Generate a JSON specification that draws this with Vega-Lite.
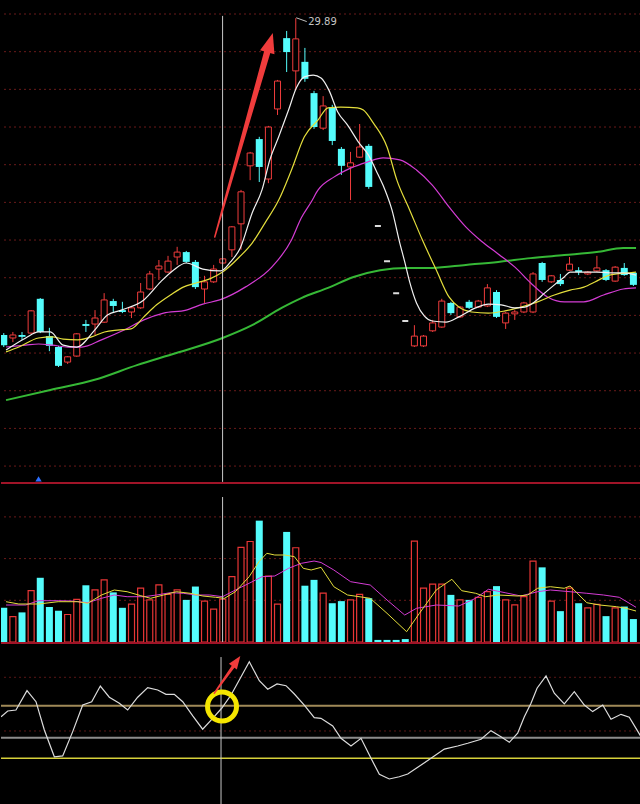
{
"$schema":"https://vega.github.io/schema/vega-lite/v6.json",
"background":"#000000","padding":0,"spacing":0,"bounds":"flush",
"config":{"view":{"stroke":null}},
"datasets":{
"candles":[
{"x":0,"o":21.48,"c":21.21,"h":21.53,"l":21.16,"v":0.82,"d":"d"},
{"x":1,"o":21.40,"c":21.48,"h":21.56,"l":21.29,"v":0.61,"d":"u"},
{"x":2,"o":21.48,"c":21.43,"h":21.56,"l":21.35,"v":0.71,"d":"d"},
{"x":3,"o":21.53,"c":22.12,"h":22.14,"l":21.51,"v":1.23,"d":"u"},
{"x":4,"o":22.44,"c":21.56,"h":22.46,"l":21.53,"v":1.54,"d":"d"},
{"x":5,"o":21.45,"c":21.19,"h":21.67,"l":21.05,"v":0.84,"d":"d"},
{"x":6,"o":21.16,"c":20.66,"h":21.19,"l":20.63,"v":0.75,"d":"d"},
{"x":7,"o":20.76,"c":20.90,"h":20.92,"l":20.71,"v":0.66,"d":"u"},
{"x":8,"o":20.92,"c":21.51,"h":21.53,"l":20.90,"v":1.02,"d":"u"},
{"x":9,"o":21.77,"c":21.72,"h":21.88,"l":21.56,"v":1.36,"d":"d"},
{"x":10,"o":21.77,"c":21.93,"h":22.14,"l":21.48,"v":1.25,"d":"u"},
{"x":11,"o":21.82,"c":22.41,"h":22.59,"l":21.80,"v":1.49,"d":"u"},
{"x":12,"o":22.38,"c":22.25,"h":22.44,"l":22.09,"v":1.19,"d":"d"},
{"x":13,"o":22.14,"c":22.09,"h":22.36,"l":22.06,"v":0.82,"d":"d"},
{"x":14,"o":22.09,"c":22.20,"h":22.22,"l":21.93,"v":0.91,"d":"u"},
{"x":15,"o":22.20,"c":22.62,"h":22.86,"l":22.17,"v":1.29,"d":"u"},
{"x":16,"o":22.70,"c":23.10,"h":23.18,"l":22.67,"v":1.01,"d":"u"},
{"x":17,"o":23.23,"c":23.31,"h":23.47,"l":22.94,"v":1.37,"d":"u"},
{"x":18,"o":23.15,"c":23.44,"h":23.58,"l":23.13,"v":1.14,"d":"u"},
{"x":19,"o":23.55,"c":23.68,"h":23.82,"l":23.34,"v":1.25,"d":"u"},
{"x":20,"o":23.68,"c":23.42,"h":23.71,"l":23.39,"v":1.01,"d":"d"},
{"x":21,"o":23.42,"c":22.75,"h":23.47,"l":22.70,"v":1.33,"d":"d"},
{"x":22,"o":22.70,"c":22.89,"h":23.05,"l":22.33,"v":0.98,"d":"u"},
{"x":23,"o":22.89,"c":23.23,"h":23.34,"l":22.86,"v":0.79,"d":"u"},
{"x":24,"o":23.39,"c":23.50,"h":23.52,"l":23.36,"v":1.03,"d":"u"},
{"x":25,"o":23.74,"c":24.35,"h":24.37,"l":23.55,"v":1.57,"d":"u"},
{"x":26,"o":24.43,"c":25.28,"h":25.33,"l":23.74,"v":2.27,"d":"u"},
{"x":27,"o":25.97,"c":26.31,"h":26.34,"l":25.59,"v":2.41,"d":"u"},
{"x":28,"o":26.68,"c":25.94,"h":26.74,"l":25.54,"v":2.91,"d":"d"},
{"x":29,"o":25.62,"c":27.00,"h":27.03,"l":25.51,"v":1.58,"d":"u"},
{"x":30,"o":27.48,"c":28.22,"h":28.25,"l":27.32,"v":0.91,"d":"u"},
{"x":31,"o":29.36,"c":28.99,"h":29.55,"l":28.46,"v":2.64,"d":"d"},
{"x":32,"o":28.49,"c":29.34,"h":29.89,"l":27.98,"v":2.26,"d":"u"},
{"x":33,"o":28.73,"c":28.28,"h":29.10,"l":28.20,"v":1.35,"d":"d"},
{"x":34,"o":27.90,"c":27.00,"h":27.96,"l":26.95,"v":1.49,"d":"d"},
{"x":35,"o":26.97,"c":27.56,"h":27.82,"l":26.92,"v":1.17,"d":"u"},
{"x":36,"o":27.53,"c":26.63,"h":27.59,"l":26.52,"v":0.93,"d":"d"},
{"x":37,"o":26.42,"c":25.97,"h":26.47,"l":25.73,"v":0.98,"d":"d"},
{"x":38,"o":25.94,"c":26.05,"h":26.34,"l":25.06,"v":1.01,"d":"u"},
{"x":39,"o":26.20,"c":26.47,"h":27.08,"l":26.18,"v":1.14,"d":"u"},
{"x":40,"o":26.50,"c":25.41,"h":26.55,"l":25.36,"v":1.05,"d":"d"},
{"x":41,"o":24.37,"c":24.37,"h":24.37,"l":24.37,"v":0.05,"d":"f"},
{"x":42,"o":23.44,"c":23.44,"h":23.44,"l":23.44,"v":0.05,"d":"f"},
{"x":43,"o":22.59,"c":22.59,"h":22.59,"l":22.59,"v":0.05,"d":"f"},
{"x":44,"o":21.85,"c":21.85,"h":21.85,"l":21.85,"v":0.07,"d":"f"},
{"x":45,"o":21.19,"c":21.45,"h":21.74,"l":21.16,"v":2.42,"d":"u"},
{"x":46,"o":21.19,"c":21.45,"h":21.48,"l":21.16,"v":1.29,"d":"u"},
{"x":47,"o":21.59,"c":21.80,"h":21.88,"l":21.56,"v":1.39,"d":"u"},
{"x":48,"o":21.69,"c":22.38,"h":22.44,"l":21.67,"v":1.39,"d":"u"},
{"x":49,"o":22.33,"c":22.06,"h":22.36,"l":22.01,"v":1.13,"d":"d"},
{"x":50,"o":21.96,"c":22.22,"h":22.25,"l":21.93,"v":1.01,"d":"u"},
{"x":51,"o":22.36,"c":22.20,"h":22.41,"l":22.17,"v":1.01,"d":"d"},
{"x":52,"o":22.22,"c":22.38,"h":22.41,"l":22.20,"v":1.07,"d":"u"},
{"x":53,"o":22.25,"c":22.73,"h":22.83,"l":22.22,"v":1.21,"d":"u"},
{"x":54,"o":22.62,"c":21.96,"h":22.67,"l":21.93,"v":1.34,"d":"d"},
{"x":55,"o":21.80,"c":22.06,"h":22.09,"l":21.64,"v":1.01,"d":"u"},
{"x":56,"o":22.04,"c":22.09,"h":22.14,"l":21.88,"v":0.89,"d":"u"},
{"x":57,"o":22.09,"c":22.33,"h":22.36,"l":22.06,"v":1.09,"d":"u"},
{"x":58,"o":22.09,"c":23.10,"h":23.15,"l":22.06,"v":1.94,"d":"u"},
{"x":59,"o":23.39,"c":22.94,"h":23.42,"l":22.89,"v":1.79,"d":"d"},
{"x":60,"o":22.89,"c":23.05,"h":23.07,"l":22.86,"v":0.98,"d":"u"},
{"x":61,"o":22.94,"c":22.83,"h":23.10,"l":22.78,"v":0.74,"d":"d"},
{"x":62,"o":23.20,"c":23.36,"h":23.55,"l":23.18,"v":1.29,"d":"u"},
{"x":63,"o":23.20,"c":23.15,"h":23.28,"l":23.07,"v":0.93,"d":"d"},
{"x":64,"o":23.10,"c":23.15,"h":23.18,"l":23.07,"v":0.82,"d":"u"},
{"x":65,"o":23.18,"c":23.26,"h":23.58,"l":23.15,"v":0.90,"d":"u"},
{"x":66,"o":23.20,"c":22.94,"h":23.23,"l":22.91,"v":0.62,"d":"d"},
{"x":67,"o":22.91,"c":23.28,"h":23.31,"l":22.89,"v":0.82,"d":"u"},
{"x":68,"o":23.26,"c":23.07,"h":23.39,"l":23.05,"v":0.85,"d":"d"},
{"x":69,"o":23.13,"c":22.81,"h":23.15,"l":22.78,"v":0.55,"d":"d"}
],
"ma":[
{"k":"m5","x":0.25,"p":21.08},{"k":"m5","x":2.41,"p":21.40},{"k":"m5","x":3.81,"p":21.56},{"k":"m5","x":5.10,"p":21.56},{"k":"m5","x":6.51,"p":21.21},{"k":"m5","x":8.02,"p":21.16},{"k":"m5","x":9.96,"p":21.61},{"k":"m5","x":11.36,"p":22.01},{"k":"m5","x":12.87,"p":22.14},{"k":"m5","x":15.35,"p":22.41},{"k":"m5","x":17.19,"p":22.89},{"k":"m5","x":18.59,"p":23.20},{"k":"m5","x":19.99,"p":23.39},{"k":"m5","x":21.82,"p":23.23},{"k":"m5","x":23.77,"p":23.18},{"k":"m5","x":24.85,"p":23.42},{"k":"m5","x":25.92,"p":23.79},{"k":"m5","x":27.22,"p":24.72},{"k":"m5","x":28.30,"p":25.33},{"k":"m5","x":29.16,"p":26.13},{"k":"m5","x":30.13,"p":26.74},{"k":"m5","x":31.21,"p":27.45},{"k":"m5","x":32.07,"p":28.04},{"k":"m5","x":32.94,"p":28.33},{"k":"m5","x":33.91,"p":28.38},{"k":"m5","x":34.77,"p":28.30},{"k":"m5","x":35.63,"p":27.98},{"k":"m5","x":36.60,"p":27.40},{"k":"m5","x":37.68,"p":27.05},{"k":"m5","x":38.87,"p":26.60},{"k":"m5","x":39.95,"p":26.26},{"k":"m5","x":41.03,"p":25.73},{"k":"m5","x":41.78,"p":25.33},{"k":"m5","x":42.54,"p":24.80},{"k":"m5","x":43.40,"p":23.92},{"k":"m5","x":43.94,"p":23.42},{"k":"m5","x":44.48,"p":22.89},{"k":"m5","x":45.23,"p":22.33},{"k":"m5","x":46.10,"p":21.98},{"k":"m5","x":46.96,"p":21.85},{"k":"m5","x":48.47,"p":21.82},{"k":"m5","x":49.87,"p":21.96},{"k":"m5","x":51.71,"p":22.20},{"k":"m5","x":53.11,"p":22.30},{"k":"m5","x":54.51,"p":22.28},{"k":"m5","x":56.02,"p":22.20},{"k":"m5","x":57.10,"p":22.22},{"k":"m5","x":58.18,"p":22.36},{"k":"m5","x":59.26,"p":22.59},{"k":"m5","x":60.34,"p":22.81},{"k":"m5","x":61.42,"p":23.02},{"k":"m5","x":62.06,"p":23.15},{"k":"m5","x":63.57,"p":23.15},{"k":"m5","x":64.97,"p":23.15},{"k":"m5","x":66.38,"p":23.13},{"k":"m5","x":67.89,"p":23.13},{"k":"m5","x":69.29,"p":23.07},
{"k":"m10","x":0.25,"p":21.03},{"k":"m10","x":1.65,"p":21.16},{"k":"m10","x":3.81,"p":21.40},{"k":"m10","x":5.32,"p":21.43},{"k":"m10","x":6.51,"p":21.37},{"k":"m10","x":8.12,"p":21.35},{"k":"m10","x":9.63,"p":21.43},{"k":"m10","x":11.04,"p":21.56},{"k":"m10","x":12.44,"p":21.61},{"k":"m10","x":13.95,"p":21.64},{"k":"m10","x":15.35,"p":21.96},{"k":"m10","x":16.75,"p":22.28},{"k":"m10","x":18.26,"p":22.54},{"k":"m10","x":19.67,"p":22.75},{"k":"m10","x":21.07,"p":22.86},{"k":"m10","x":22.58,"p":22.97},{"k":"m10","x":23.98,"p":23.15},{"k":"m10","x":25.82,"p":23.55},{"k":"m10","x":27.22,"p":23.92},{"k":"m10","x":28.62,"p":24.45},{"k":"m10","x":30.13,"p":25.06},{"k":"m10","x":31.53,"p":25.86},{"k":"m10","x":32.94,"p":26.74},{"k":"m10","x":34.45,"p":27.19},{"k":"m10","x":35.53,"p":27.51},{"k":"m10","x":36.93,"p":27.53},{"k":"m10","x":38.76,"p":27.51},{"k":"m10","x":39.41,"p":27.45},{"k":"m10","x":40.49,"p":27.11},{"k":"m10","x":42.00,"p":26.47},{"k":"m10","x":43.08,"p":25.59},{"k":"m10","x":44.48,"p":24.80},{"k":"m10","x":45.88,"p":24.00},{"k":"m10","x":47.39,"p":23.21},{"k":"m10","x":48.79,"p":22.49},{"k":"m10","x":49.87,"p":22.22},{"k":"m10","x":51.27,"p":22.09},{"k":"m10","x":53.11,"p":22.06},{"k":"m10","x":54.94,"p":22.12},{"k":"m10","x":56.67,"p":22.22},{"k":"m10","x":58.50,"p":22.36},{"k":"m10","x":60.34,"p":22.54},{"k":"m10","x":62.06,"p":22.67},{"k":"m10","x":63.57,"p":22.75},{"k":"m10","x":64.97,"p":22.91},{"k":"m10","x":66.38,"p":23.07},{"k":"m10","x":68.53,"p":23.13},{"k":"m10","x":69.29,"p":23.15},
{"k":"m20","x":0.25,"p":21.16},{"k":"m20","x":2.41,"p":21.21},{"k":"m20","x":3.81,"p":21.24},{"k":"m20","x":5.32,"p":21.21},{"k":"m20","x":7.04,"p":21.16},{"k":"m20","x":8.55,"p":21.16},{"k":"m20","x":10.71,"p":21.35},{"k":"m20","x":13.19,"p":21.61},{"k":"m20","x":15.35,"p":21.88},{"k":"m20","x":17.51,"p":22.06},{"k":"m20","x":19.99,"p":22.14},{"k":"m20","x":21.82,"p":22.30},{"k":"m20","x":23.66,"p":22.41},{"k":"m20","x":26.46,"p":22.75},{"k":"m20","x":29.37,"p":23.28},{"k":"m20","x":31.53,"p":24.00},{"k":"m20","x":32.61,"p":24.59},{"k":"m20","x":33.69,"p":25.01},{"k":"m20","x":34.45,"p":25.33},{"k":"m20","x":36.17,"p":25.67},{"k":"m20","x":38.01,"p":25.91},{"k":"m20","x":39.84,"p":26.07},{"k":"m20","x":41.57,"p":26.18},{"k":"m20","x":43.40,"p":26.13},{"k":"m20","x":45.23,"p":25.86},{"k":"m20","x":46.96,"p":25.46},{"k":"m20","x":48.79,"p":24.88},{"k":"m20","x":50.63,"p":24.35},{"k":"m20","x":52.35,"p":23.97},{"k":"m20","x":54.18,"p":23.63},{"k":"m20","x":56.02,"p":23.28},{"k":"m20","x":57.75,"p":22.86},{"k":"m20","x":59.58,"p":22.49},{"k":"m20","x":61.42,"p":22.36},{"k":"m20","x":63.57,"p":22.36},{"k":"m20","x":65.73,"p":22.54},{"k":"m20","x":67.89,"p":22.70},{"k":"m20","x":69.29,"p":22.73},
{"k":"m60","x":0.25,"p":19.75},{"k":"m60","x":5.10,"p":20.02},{"k":"m60","x":9.96,"p":20.29},{"k":"m60","x":14.60,"p":20.68},{"k":"m60","x":18.91,"p":21.00},{"k":"m60","x":23.98,"p":21.40},{"k":"m60","x":27.22,"p":21.74},{"k":"m60","x":30.45,"p":22.20},{"k":"m60","x":32.61,"p":22.46},{"k":"m60","x":35.53,"p":22.73},{"k":"m60","x":38.33,"p":23.02},{"k":"m60","x":41.24,"p":23.20},{"k":"m60","x":44.15,"p":23.26},{"k":"m60","x":46.96,"p":23.26},{"k":"m60","x":50.63,"p":23.34},{"k":"m60","x":54.18,"p":23.42},{"k":"m60","x":57.75,"p":23.52},{"k":"m60","x":61.42,"p":23.60},{"k":"m60","x":64.97,"p":23.68},{"k":"m60","x":67.89,"p":23.79},{"k":"m60","x":69.29,"p":23.79}
],
"vma":[
{"k":"y5","x":0.25,"v":0.966},{"k":"y5","x":1.65,"v":0.911},{"k":"y5","x":3.81,"v":0.911},{"k":"y5","x":5.96,"v":0.966},{"k":"y5","x":8.12,"v":0.966},{"k":"y5","x":9.20,"v":0.928},{"k":"y5","x":10.71,"v":1.127},{"k":"y5","x":12.11,"v":1.247},{"k":"y5","x":13.52,"v":1.206},{"k":"y5","x":15.02,"v":1.110},{"k":"y5","x":16.10,"v":1.048},{"k":"y5","x":17.51,"v":1.127},{"k":"y5","x":18.91,"v":1.206},{"k":"y5","x":20.42,"v":1.168},{"k":"y5","x":21.82,"v":1.103},{"k":"y5","x":23.22,"v":1.072},{"k":"y5","x":24.19,"v":1.048},{"k":"y5","x":25.38,"v":1.206},{"k":"y5","x":26.89,"v":1.566},{"k":"y5","x":27.97,"v":1.926},{"k":"y5","x":28.83,"v":2.127},{"k":"y5","x":29.70,"v":2.086},{"k":"y5","x":30.78,"v":2.086},{"k":"y5","x":31.85,"v":2.046},{"k":"y5","x":32.82,"v":1.767},{"k":"y5","x":33.69,"v":1.727},{"k":"y5","x":34.77,"v":1.790},{"k":"y5","x":36.17,"v":1.326},{"k":"y5","x":37.68,"v":1.127},{"k":"y5","x":40.16,"v":1.048},{"k":"y5","x":42.00,"v":0.688},{"k":"y5","x":44.15,"v":0.247},{"k":"y5","x":45.55,"v":0.688},{"k":"y5","x":47.39,"v":1.247},{"k":"y5","x":49.11,"v":1.504},{"k":"y5","x":50.19,"v":1.230},{"k":"y5","x":51.71,"v":1.168},{"k":"y5","x":52.78,"v":1.086},{"k":"y5","x":54.18,"v":1.127},{"k":"y5","x":56.34,"v":1.103},{"k":"y5","x":57.42,"v":1.127},{"k":"y5","x":58.50,"v":1.288},{"k":"y5","x":59.90,"v":1.326},{"k":"y5","x":61.42,"v":1.288},{"k":"y5","x":62.06,"v":1.343},{"k":"y5","x":63.89,"v":0.942},{"k":"y5","x":65.30,"v":0.887},{"k":"y5","x":67.13,"v":0.847},{"k":"y5","x":68.21,"v":0.808},{"k":"y5","x":69.29,"v":0.743},
{"k":"m10","x":0.25,"v":0.887},{"k":"m10","x":2.41,"v":0.887},{"k":"m10","x":3.81,"v":0.990},{"k":"m10","x":5.96,"v":0.990},{"k":"m10","x":7.47,"v":0.983},{"k":"m10","x":9.20,"v":0.942},{"k":"m10","x":10.71,"v":1.048},{"k":"m10","x":12.11,"v":1.127},{"k":"m10","x":13.52,"v":1.086},{"k":"m10","x":15.35,"v":1.086},{"k":"m10","x":16.75,"v":1.127},{"k":"m10","x":18.26,"v":1.182},{"k":"m10","x":19.67,"v":1.168},{"k":"m10","x":21.07,"v":1.127},{"k":"m10","x":22.58,"v":1.127},{"k":"m10","x":23.98,"v":1.086},{"k":"m10","x":25.38,"v":1.247},{"k":"m10","x":26.89,"v":1.408},{"k":"m10","x":28.30,"v":1.566},{"k":"m10","x":29.70,"v":1.583},{"k":"m10","x":31.21,"v":1.767},{"k":"m10","x":32.61,"v":1.887},{"k":"m10","x":34.01,"v":1.942},{"k":"m10","x":34.77,"v":1.906},{"k":"m10","x":36.17,"v":1.727},{"k":"m10","x":38.01,"v":1.446},{"k":"m10","x":40.16,"v":1.367},{"k":"m10","x":42.00,"v":1.007},{"k":"m10","x":43.94,"v":0.647},{"k":"m10","x":45.23,"v":0.808},{"k":"m10","x":47.39,"v":0.887},{"k":"m10","x":49.87,"v":0.863},{"k":"m10","x":51.71,"v":1.048},{"k":"m10","x":53.11,"v":1.264},{"k":"m10","x":54.94,"v":1.182},{"k":"m10","x":56.67,"v":1.103},{"k":"m10","x":58.50,"v":1.206},{"k":"m10","x":59.90,"v":1.247},{"k":"m10","x":62.06,"v":1.206},{"k":"m10","x":63.89,"v":1.168},{"k":"m10","x":65.73,"v":1.127},{"k":"m10","x":67.46,"v":1.072},{"k":"m10","x":69.29,"v":0.832}
],
"ind":[
{"x":0.25,"w":53.1},{"x":0.97,"w":56.7},{"x":1.86,"w":57.3},{"x":3.05,"w":69.4},{"x":4.02,"w":62.5},{"x":4.92,"w":44.8},{"x":6.00,"w":28.1},{"x":6.90,"w":28.6},{"x":7.98,"w":43.8},{"x":9.06,"w":60.4},{"x":10.03,"w":62.5},{"x":10.96,"w":72.3},{"x":11.93,"w":65.3},{"x":13.01,"w":61.5},{"x":13.91,"w":57.3},{"x":14.99,"w":65.3},{"x":16.07,"w":71.3},{"x":17.15,"w":69.8},{"x":18.04,"w":67.1},{"x":18.94,"w":67.1},{"x":19.85,"w":62.5},{"x":20.93,"w":53.6},{"x":22.00,"w":45.3},{"x":23.08,"w":52.1},{"x":24.05,"w":58.4},{"x":25.06,"w":66.7},{"x":25.95,"w":76.1},{"x":27.03,"w":87.5},{"x":28.11,"w":75.6},{"x":29.02,"w":70.3},{"x":30.02,"w":73.6},{"x":30.99,"w":72.5},{"x":31.89,"w":67.3},{"x":32.96,"w":60.4},{"x":34.04,"w":52.5},{"x":34.76,"w":52.1},{"x":36.03,"w":47.3},{"x":36.92,"w":39.6},{"x":38.00,"w":34.8},{"x":39.08,"w":39.6},{"x":40.16,"w":27.1},{"x":41.06,"w":17.1},{"x":42.13,"w":14.2},{"x":43.21,"w":15.6},{"x":44.12,"w":17.3},{"x":45.20,"w":21.5},{"x":46.63,"w":27.1},{"x":48.07,"w":32.9},{"x":49.51,"w":34.8},{"x":50.59,"w":36.5},{"x":52.03,"w":39.0},{"x":53.10,"w":44.4},{"x":54.18,"w":40.6},{"x":55.08,"w":37.1},{"x":55.98,"w":42.8},{"x":56.70,"w":53.1},{"x":57.42,"w":61.5},{"x":58.07,"w":70.9},{"x":59.04,"w":78.6},{"x":59.93,"w":67.8},{"x":61.01,"w":61.1},{"x":62.09,"w":68.8},{"x":63.17,"w":60.4},{"x":64.07,"w":56.3},{"x":65.16,"w":60.4},{"x":66.05,"w":51.5},{"x":67.13,"w":54.6},{"x":68.02,"w":52.8},{"x":69.29,"w":40.6}
]
},
"vconcat":[
{"width":640,"height":482,
"resolve":{"scale":{"color":"independent","size":"independent"}},
"layer":[
{"data":{"values":[{"p":30},{"p":29},{"p":28},{"p":27},{"p":26},{"p":25},{"p":24},{"p":23},{"p":22},{"p":21},{"p":20},{"p":19},{"p":18}]},
 "mark":{"type":"rule","color":"#6a1a1a","strokeDash":[2,3],"strokeWidth":1},
 "encoding":{"y":{"field":"p","type":"quantitative","scale":{"domain":[17.577,30.372],"nice":false,"zero":false},"axis":null}}},
{"data":{"name":"ma"},"transform":[{"filter":"datum.k==='m60'"}],
 "mark":{"type":"line","color":"#36b836","strokeWidth":2,"interpolate":"monotone","clip":true},
 "encoding":{"x":{"field":"x","type":"quantitative","scale":{"domain":[0.245,69.285],"nice":false,"zero":false},"axis":null},
  "y":{"field":"p","type":"quantitative","scale":{"domain":[17.577,30.372],"nice":false,"zero":false},"axis":null}}},
{"data":{"name":"candles"},"transform":[{"filter":"datum.d==='u'"}],
 "mark":{"type":"rule","strokeWidth":1,"color":"#f03c3c","clip":true},
 "encoding":{"x":{"field":"x","type":"quantitative","scale":{"domain":[0.245,69.285],"nice":false,"zero":false},"axis":null},
  "y":{"field":"l","type":"quantitative","scale":{"domain":[17.577,30.372],"nice":false,"zero":false},"axis":null},
  "y2":{"field":"h"}}},
{"data":{"name":"candles"},"transform":[{"filter":"datum.d==='d'"}],
 "mark":{"type":"rule","strokeWidth":1,"color":"#54fcfc","clip":true},
 "encoding":{"x":{"field":"x","type":"quantitative","scale":{"domain":[0.245,69.285],"nice":false,"zero":false},"axis":null},
  "y":{"field":"l","type":"quantitative","scale":{"domain":[17.577,30.372],"nice":false,"zero":false},"axis":null},
  "y2":{"field":"h"}}},
{"data":{"name":"candles"},"transform":[{"filter":"datum.d==='d'"}],
 "mark":{"type":"bar","size":7,"color":"#54fcfc","clip":true},
 "encoding":{"x":{"field":"x","type":"quantitative","scale":{"domain":[0.245,69.285],"nice":false,"zero":false},"axis":null},
  "y":{"field":"o","type":"quantitative","scale":{"domain":[17.577,30.372],"nice":false,"zero":false},"axis":null},
  "y2":{"field":"c"}}},
{"data":{"name":"candles"},"transform":[{"filter":"datum.d==='u'"}],
 "mark":{"type":"bar","size":6,"fill":"#000000","stroke":"#f03c3c","strokeWidth":1,"clip":true},
 "encoding":{"x":{"field":"x","type":"quantitative","scale":{"domain":[0.245,69.285],"nice":false,"zero":false},"axis":null},
  "y":{"field":"o","type":"quantitative","scale":{"domain":[17.577,30.372],"nice":false,"zero":false},"axis":null},
  "y2":{"field":"c"}}},
{"data":{"name":"candles"},"transform":[{"filter":"datum.d==='f'"}],
 "mark":{"type":"bar","size":6,"fill":"#dcdcdc","stroke":"#dcdcdc","strokeWidth":2,"clip":true},
 "encoding":{"x":{"field":"x","type":"quantitative","scale":{"domain":[0.245,69.285],"nice":false,"zero":false},"axis":null},
  "y":{"field":"o","type":"quantitative","scale":{"domain":[17.577,30.372],"nice":false,"zero":false},"axis":null},
  "y2":{"field":"c"}}},
{"data":{"name":"ma"},"transform":[{"filter":"datum.k==='m20'"}],
 "mark":{"type":"line","strokeWidth":1.2,"color":"#d43cd4","interpolate":"monotone","clip":true},
 "encoding":{"x":{"field":"x","type":"quantitative","scale":{"domain":[0.245,69.285],"nice":false,"zero":false},"axis":null},
  "y":{"field":"p","type":"quantitative","scale":{"domain":[17.577,30.372],"nice":false,"zero":false},"axis":null}}},
{"data":{"name":"ma"},"transform":[{"filter":"datum.k==='m10'"}],
 "mark":{"type":"line","strokeWidth":1.2,"color":"#e4de3c","interpolate":"monotone","clip":true},
 "encoding":{"x":{"field":"x","type":"quantitative","scale":{"domain":[0.245,69.285],"nice":false,"zero":false},"axis":null},
  "y":{"field":"p","type":"quantitative","scale":{"domain":[17.577,30.372],"nice":false,"zero":false},"axis":null}}},
{"data":{"name":"ma"},"transform":[{"filter":"datum.k==='m5'"}],
 "mark":{"type":"line","strokeWidth":1.2,"color":"#f0f0f0","interpolate":"monotone","clip":true},
 "encoding":{"x":{"field":"x","type":"quantitative","scale":{"domain":[0.245,69.285],"nice":false,"zero":false},"axis":null},
  "y":{"field":"p","type":"quantitative","scale":{"domain":[17.577,30.372],"nice":false,"zero":false},"axis":null}}},
{"data":{"values":[{"x":23.98,"a":29.95,"b":17.58}]},
 "mark":{"type":"rule","color":"#c8c8c8","strokeWidth":1},
 "encoding":{"x":{"field":"x","type":"quantitative","scale":{"domain":[0.245,69.285],"nice":false,"zero":false},"axis":null},
  "y":{"field":"a","type":"quantitative","scale":{"domain":[17.577,30.372],"nice":false,"zero":false},"axis":null},
  "y2":{"field":"b"}}},
{"data":{"values":[{"x":23.12,"p":24.08},{"x":28.94,"p":29.05}]},
 "mark":{"type":"trail","color":"#f03c3c","clip":true},
 "encoding":{"x":{"field":"x","type":"quantitative","scale":{"domain":[0.245,69.285],"nice":false,"zero":false},"axis":null},
  "y":{"field":"p","type":"quantitative","scale":{"domain":[17.577,30.372],"nice":false,"zero":false},"axis":null},
  "size":{"field":"x","type":"quantitative","scale":{"range":[1.5,6.5],"zero":false,"nice":false},"legend":null}}},
{"data":{"values":[{"x":29.18,"p":29.24}]},
 "mark":{"type":"point","shape":"M0,-1L0.75,1L-0.75,1Z","size":400,"angle":16,"filled":true,"color":"#f03c3c","opacity":1,"clip":true},
 "encoding":{"x":{"field":"x","type":"quantitative","scale":{"domain":[0.245,69.285],"nice":false,"zero":false},"axis":null},
  "y":{"field":"p","type":"quantitative","scale":{"domain":[17.577,30.372],"nice":false,"zero":false},"axis":null}}},
{"data":{"values":[{"x":32.05,"p":29.9,"x2":33.2,"p2":29.8}]},
 "mark":{"type":"rule","color":"#c0c0c0","strokeWidth":1},
 "encoding":{"x":{"field":"x","type":"quantitative","scale":{"domain":[0.245,69.285],"nice":false,"zero":false},"axis":null},
  "y":{"field":"p","type":"quantitative","scale":{"domain":[17.577,30.372],"nice":false,"zero":false},"axis":null},
  "x2":{"field":"x2"},"y2":{"field":"p2"}}},
{"data":{"values":[{"x":33.36,"p":29.79,"s":"29.89"}]},
 "mark":{"type":"text","align":"left","baseline":"middle","fontSize":10,"font":"DejaVu Sans","color":"#c4c4c4"},
 "encoding":{"x":{"field":"x","type":"quantitative","scale":{"domain":[0.245,69.285],"nice":false,"zero":false},"axis":null},
  "y":{"field":"p","type":"quantitative","scale":{"domain":[17.577,30.372],"nice":false,"zero":false},"axis":null},
  "text":{"field":"s"}}},
{"data":{"values":[{"x":3.81,"p":17.66}]},
 "mark":{"type":"point","shape":"triangle-up","size":40,"filled":true,"color":"#2d6fff","opacity":1,"clip":true},
 "encoding":{"x":{"field":"x","type":"quantitative","scale":{"domain":[0.245,69.285],"nice":false,"zero":false},"axis":null},
  "y":{"field":"p","type":"quantitative","scale":{"domain":[17.577,30.372],"nice":false,"zero":false},"axis":null}}}
]},
{"width":640,"height":162,"layer":[
{"data":{"values":[{"v":1},{"v":2},{"v":3}]},
 "mark":{"type":"rule","color":"#6a1a1a","strokeDash":[2,3],"strokeWidth":1},
 "encoding":{"y":{"field":"v","type":"quantitative","scale":{"domain":[-0.048,3.837],"nice":false,"zero":false},"axis":null}}},
{"data":{"name":"candles"},"transform":[{"filter":"datum.d!=='u'"}],
 "mark":{"type":"bar","size":7,"color":"#54fcfc","clip":true},
 "encoding":{"x":{"field":"x","type":"quantitative","scale":{"domain":[0.245,69.285],"nice":false,"zero":false},"axis":null},
  "y":{"field":"v","type":"quantitative","scale":{"domain":[-0.048,3.837],"nice":false,"zero":false},"axis":null},
  "y2":{"datum":0}}},
{"data":{"name":"candles"},"transform":[{"filter":"datum.d==='u'"}],
 "mark":{"type":"bar","size":6,"fill":"#000000","stroke":"#e83636","strokeWidth":1.2,"clip":true},
 "encoding":{"x":{"field":"x","type":"quantitative","scale":{"domain":[0.245,69.285],"nice":false,"zero":false},"axis":null},
  "y":{"field":"v","type":"quantitative","scale":{"domain":[-0.048,3.837],"nice":false,"zero":false},"axis":null},
  "y2":{"datum":0}}},
{"data":{"name":"vma"},"transform":[{"filter":"datum.k==='m10'"}],
 "mark":{"type":"line","strokeWidth":1,"color":"#d43cd4","clip":true},
 "encoding":{"x":{"field":"x","type":"quantitative","scale":{"domain":[0.245,69.285],"nice":false,"zero":false},"axis":null},
  "y":{"field":"v","type":"quantitative","scale":{"domain":[-0.048,3.837],"nice":false,"zero":false},"axis":null}}},
{"data":{"name":"vma"},"transform":[{"filter":"datum.k==='y5'"}],
 "mark":{"type":"line","strokeWidth":1,"color":"#e4de3c","clip":true},
 "encoding":{"x":{"field":"x","type":"quantitative","scale":{"domain":[0.245,69.285],"nice":false,"zero":false},"axis":null},
  "y":{"field":"v","type":"quantitative","scale":{"domain":[-0.048,3.837],"nice":false,"zero":false},"axis":null}}},
{"data":{"values":[{"x":23.98,"a":3.477,"b":0}]},
 "mark":{"type":"rule","color":"#c8c8c8","strokeWidth":1},
 "encoding":{"x":{"field":"x","type":"quantitative","scale":{"domain":[0.245,69.285],"nice":false,"zero":false},"axis":null},
  "y":{"field":"a","type":"quantitative","scale":{"domain":[-0.048,3.837],"nice":false,"zero":false},"axis":null},
  "y2":{"field":"b"}}},
{"data":{"values":[{"v":3.813},{"v":-0.024}]},
 "mark":{"type":"rule","color":"#a01428","strokeWidth":2},
 "encoding":{"y":{"field":"v","type":"quantitative","scale":{"domain":[-0.048,3.837],"nice":false,"zero":false},"axis":null}}}
]},
{"width":640,"height":160,
"resolve":{"scale":{"size":"independent"}},
"layer":[
{"data":{"values":[{"w":77.75},{"w":44.2}]},
 "mark":{"type":"rule","color":"#5a1616","strokeDash":[2,3],"strokeWidth":1},
 "encoding":{"y":{"field":"w","type":"quantitative","scale":{"domain":[-1.44,98.56],"nice":false,"zero":false},"axis":null}}},
{"data":{"values":[{"w":60}]},
 "mark":{"type":"rule","color":"#a08a58","strokeWidth":2},
 "encoding":{"y":{"field":"w","type":"quantitative","scale":{"domain":[-1.44,98.56],"nice":false,"zero":false},"axis":null}}},
{"data":{"values":[{"w":40}]},
 "mark":{"type":"rule","color":"#8c8c8c","strokeWidth":2},
 "encoding":{"y":{"field":"w","type":"quantitative","scale":{"domain":[-1.44,98.56],"nice":false,"zero":false},"axis":null}}},
{"data":{"values":[{"w":27.1}]},
 "mark":{"type":"rule","color":"#d6d03a","strokeWidth":1.5},
 "encoding":{"y":{"field":"w","type":"quantitative","scale":{"domain":[-1.44,98.56],"nice":false,"zero":false},"axis":null}}},
{"data":{"name":"ind"},
 "mark":{"type":"line","color":"#dcdcdc","strokeWidth":1.2,"clip":true},
 "encoding":{"x":{"field":"x","type":"quantitative","scale":{"domain":[0.245,69.285],"nice":false,"zero":false},"axis":null},
  "y":{"field":"w","type":"quantitative","scale":{"domain":[-1.44,98.56],"nice":false,"zero":false},"axis":null}}},
{"data":{"values":[{"x":23.98,"a":90.4,"b":-1.44}]},
 "mark":{"type":"rule","color":"#c8c8c8","strokeWidth":1},
 "encoding":{"x":{"field":"x","type":"quantitative","scale":{"domain":[0.245,69.285],"nice":false,"zero":false},"axis":null},
  "y":{"field":"a","type":"quantitative","scale":{"domain":[-1.44,98.56],"nice":false,"zero":false},"axis":null},
  "y2":{"field":"b"}}},
{"data":{"values":[{"x":24.09,"w":59.5}]},
 "mark":{"type":"point","shape":"circle","size":841,"filled":false,"stroke":"#f5e600","strokeWidth":5,"opacity":1},
 "encoding":{"x":{"field":"x","type":"quantitative","scale":{"domain":[0.245,69.285],"nice":false,"zero":false},"axis":null},
  "y":{"field":"w","type":"quantitative","scale":{"domain":[-1.44,98.56],"nice":false,"zero":false},"axis":null}}},
{"data":{"values":[{"x":23.25,"w":67.75},{"x":25.49,"w":86.06}]},
 "mark":{"type":"trail","color":"#f03c3c","clip":true},
 "encoding":{"x":{"field":"x","type":"quantitative","scale":{"domain":[0.245,69.285],"nice":false,"zero":false},"axis":null},
  "y":{"field":"w","type":"quantitative","scale":{"domain":[-1.44,98.56],"nice":false,"zero":false},"axis":null},
  "size":{"field":"x","type":"quantitative","scale":{"range":[1.5,3.5],"zero":false,"nice":false},"legend":null}}},
{"data":{"values":[{"x":25.66,"w":87.75}]},
 "mark":{"type":"point","shape":"M0,-1L0.75,1L-0.75,1Z","size":169,"angle":35,"filled":true,"color":"#f03c3c","opacity":1,"clip":true},
 "encoding":{"x":{"field":"x","type":"quantitative","scale":{"domain":[0.245,69.285],"nice":false,"zero":false},"axis":null},
  "y":{"field":"w","type":"quantitative","scale":{"domain":[-1.44,98.56],"nice":false,"zero":false},"axis":null}}}
]}
]
}
